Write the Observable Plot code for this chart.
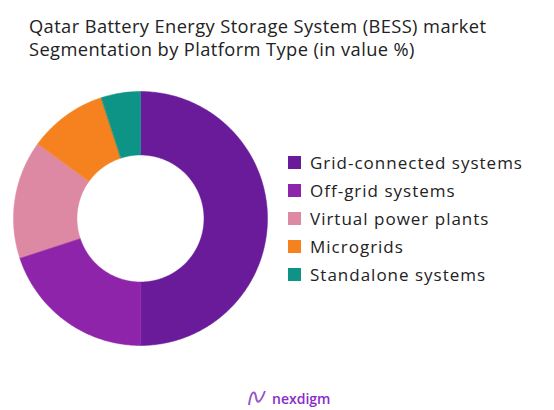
<!DOCTYPE html>
<html><head><meta charset="utf-8">
<script src="https://cdn.jsdelivr.net/npm/d3@7"></script>
<script src="https://cdn.jsdelivr.net/npm/@observablehq/plot@0.6"></script>
<style>
body{margin:0;background:#fff;font-family:"Open Sans",sans-serif;width:554px;height:410px;overflow:hidden;position:relative}
#title{position:absolute;left:29px;top:14px;font-size:18.3px;line-height:23px;color:#222;letter-spacing:0.4px}
#chart{position:absolute;left:0;top:62px}
#legend{position:absolute;left:288px;top:148px}
.item{display:flex;align-items:center;height:28.2px;font-size:17px;color:#222;letter-spacing:1px}
.sw{width:13px;height:13px;margin-right:9px}
#logo{position:absolute;left:247px;top:388px;display:flex;align-items:center;font-size:14px;font-weight:600;color:#8a2bc8}
</style></head><body>
<div id="title">Qatar Battery Energy Storage System (BESS) market<br>Segmentation by Platform Type (in value %)</div>
<div id="chart"></div>
<div id="legend"></div>
<div id="logo"><svg width="20" height="20" viewBox="0 0 20 20"><path d="M2 17 C4 2,8 2,9 9 C10 16,13 16,18 3" fill="none" stroke="#9b59c8" stroke-width="2"/></svg><span style="margin-left:5px">nexdigm</span></div>
<script>
const categories = ["Grid-connected systems","Off-grid systems","Virtual power plants","Microgrids","Standalone systems"];
const values = [50, 20, 15, 10, 5];
const colors = ["#6a1b9a","#8e24aa","#de89a4","#f5821f","#0e9486"];

const inner = 0.5;
const pie = d3.pie().sort(null).value(d => d.value)(categories.map((c,i)=>({category:c,value:values[i]})));
const pts = [];
for (const a of pie) {
  const n = Math.max(8, Math.round((a.endAngle - a.startAngle) * 60));
  for (let k=0;k<=n;k++){const t=a.startAngle+(a.endAngle-a.startAngle)*k/n; pts.push({category:a.data.category,x:Math.sin(t),y:Math.cos(t)});}
  for (let k=n;k>=0;k--){const t=a.startAngle+(a.endAngle-a.startAngle)*k/n; pts.push({category:a.data.category,x:inner*Math.sin(t),y:inner*Math.cos(t)});}
}
const chart = Plot.plot({
  width:554, height:320, margin:0,
  x:{domain:[-1,1], range:[13,267], axis:null},
  y:{domain:[-1,1], range:[283,29], axis:null},
  color:{domain:categories, range:colors},
  marks:[
    Plot.line(pts,{x:"x",y:"y",z:"category",fill:"category",stroke:"category",strokeWidth:0.5,curve:"linear-closed"})
  ]
});
document.getElementById("chart").appendChild(chart);
const lg = document.getElementById("legend");
categories.forEach((c,i)=>{
  const d=document.createElement("div");d.className="item";
  d.innerHTML=`<div class="sw" style="background:${colors[i]}"></div><span>${c}</span>`;
  lg.appendChild(d);
});
</script>
</body></html>
